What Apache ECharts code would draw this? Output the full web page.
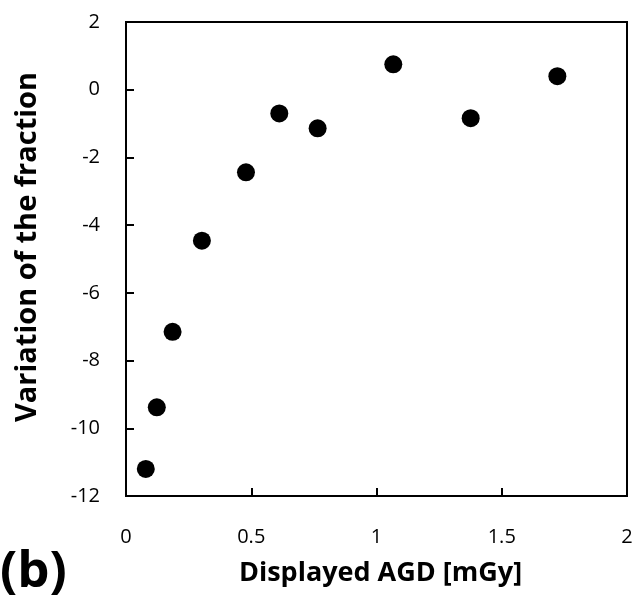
<!DOCTYPE html>
<html>
<head>
<meta charset="utf-8">
<title>Variation of the fraction vs displayed AGD</title>
<script src="https://cdn.jsdelivr.net/npm/echarts@6/dist/echarts.min.js"></script>
<style>
  html, body { margin: 0; padding: 0; background: #ffffff; }
  #chart { width: 635px; height: 595px; }
</style>
</head>
<body>
<div id="chart"></div>
<script>
// Displayed AGD [mGy] for each measurement
const agd = [0.079, 0.123, 0.186, 0.303, 0.479, 0.612, 0.765, 1.067, 1.376, 1.722];
// Variation of the fraction at each dose
const variation = [-11.20, -9.38, -7.15, -4.46, -2.44, -0.70, -1.14, 0.75, -0.84, 0.40];

const xTicks = [0, 0.5, 1, 1.5, 2];
const yTicks = [-12, -10, -8, -6, -4, -2, 0, 2];

const xTitle = 'Displayed AGD [mGy]';
const yTitle = 'Variation of the fraction';
const panelLabel = '(b)';

const FONT = '"Open Sans", "Liberation Sans", sans-serif';

const points = agd.map((x, i) => [x, variation[i]]);

const chart = echarts.init(document.getElementById('chart'), null, { renderer: 'canvas' });

chart.setOption({
  backgroundColor: '#ffffff',
  animation: false,
  grid: {
    left: 126, right: 8, top: 22, bottom: 99,
    outerBoundsMode: 'none',
    show: true,
    borderColor: '#000000',
    borderWidth: 2
  },
  xAxis: {
    type: 'value',
    min: xTicks[0],
    max: xTicks[xTicks.length - 1],
    interval: 0.5,
    name: xTitle,
    nameLocation: 'middle',
    nameGap: 64,
    nameTextStyle: { fontFamily: FONT, fontSize: 27, fontWeight: 'bold', color: '#000000', padding: [0, 0, 0, 8] },
    axisLine: { show: true, onZero: false, lineStyle: { color: '#000000', width: 2 } },
    axisTick: { show: true, inside: true, length: 8, lineStyle: { color: '#000000', width: 2 } },
    axisLabel: { margin: 31, fontFamily: FONT, fontSize: 20, color: '#000000' },
    splitLine: { show: false }
  },
  yAxis: {
    type: 'value',
    min: yTicks[0],
    max: yTicks[yTicks.length - 1],
    interval: 2,
    name: yTitle,
    nameLocation: 'middle',
    nameGap: 84,
    nameTextStyle: { fontFamily: FONT, fontSize: 29, fontWeight: 'bold', color: '#000000', padding: [0, 0, 0, 24] },
    axisLine: { show: true, onZero: false, lineStyle: { color: '#000000', width: 2 } },
    axisTick: { show: true, inside: true, length: 8, lineStyle: { color: '#000000', width: 2 } },
    axisLabel: { margin: 26, fontFamily: FONT, fontSize: 20, color: '#000000' },
    splitLine: { show: false }
  },
  graphic: [
    {
      type: 'text',
      left: 0,
      top: 547,
      style: {
        text: panelLabel,
        fontFamily: FONT,
        fontSize: 51,
        fontWeight: 'bold',
        fill: '#000000'
      }
    }
  ],
  series: [
    {
      type: 'scatter',
      data: points,
      symbol: 'circle',
      symbolSize: 18,
      itemStyle: { color: '#000000', opacity: 1 }
    }
  ]
});
</script>
</body>
</html>
